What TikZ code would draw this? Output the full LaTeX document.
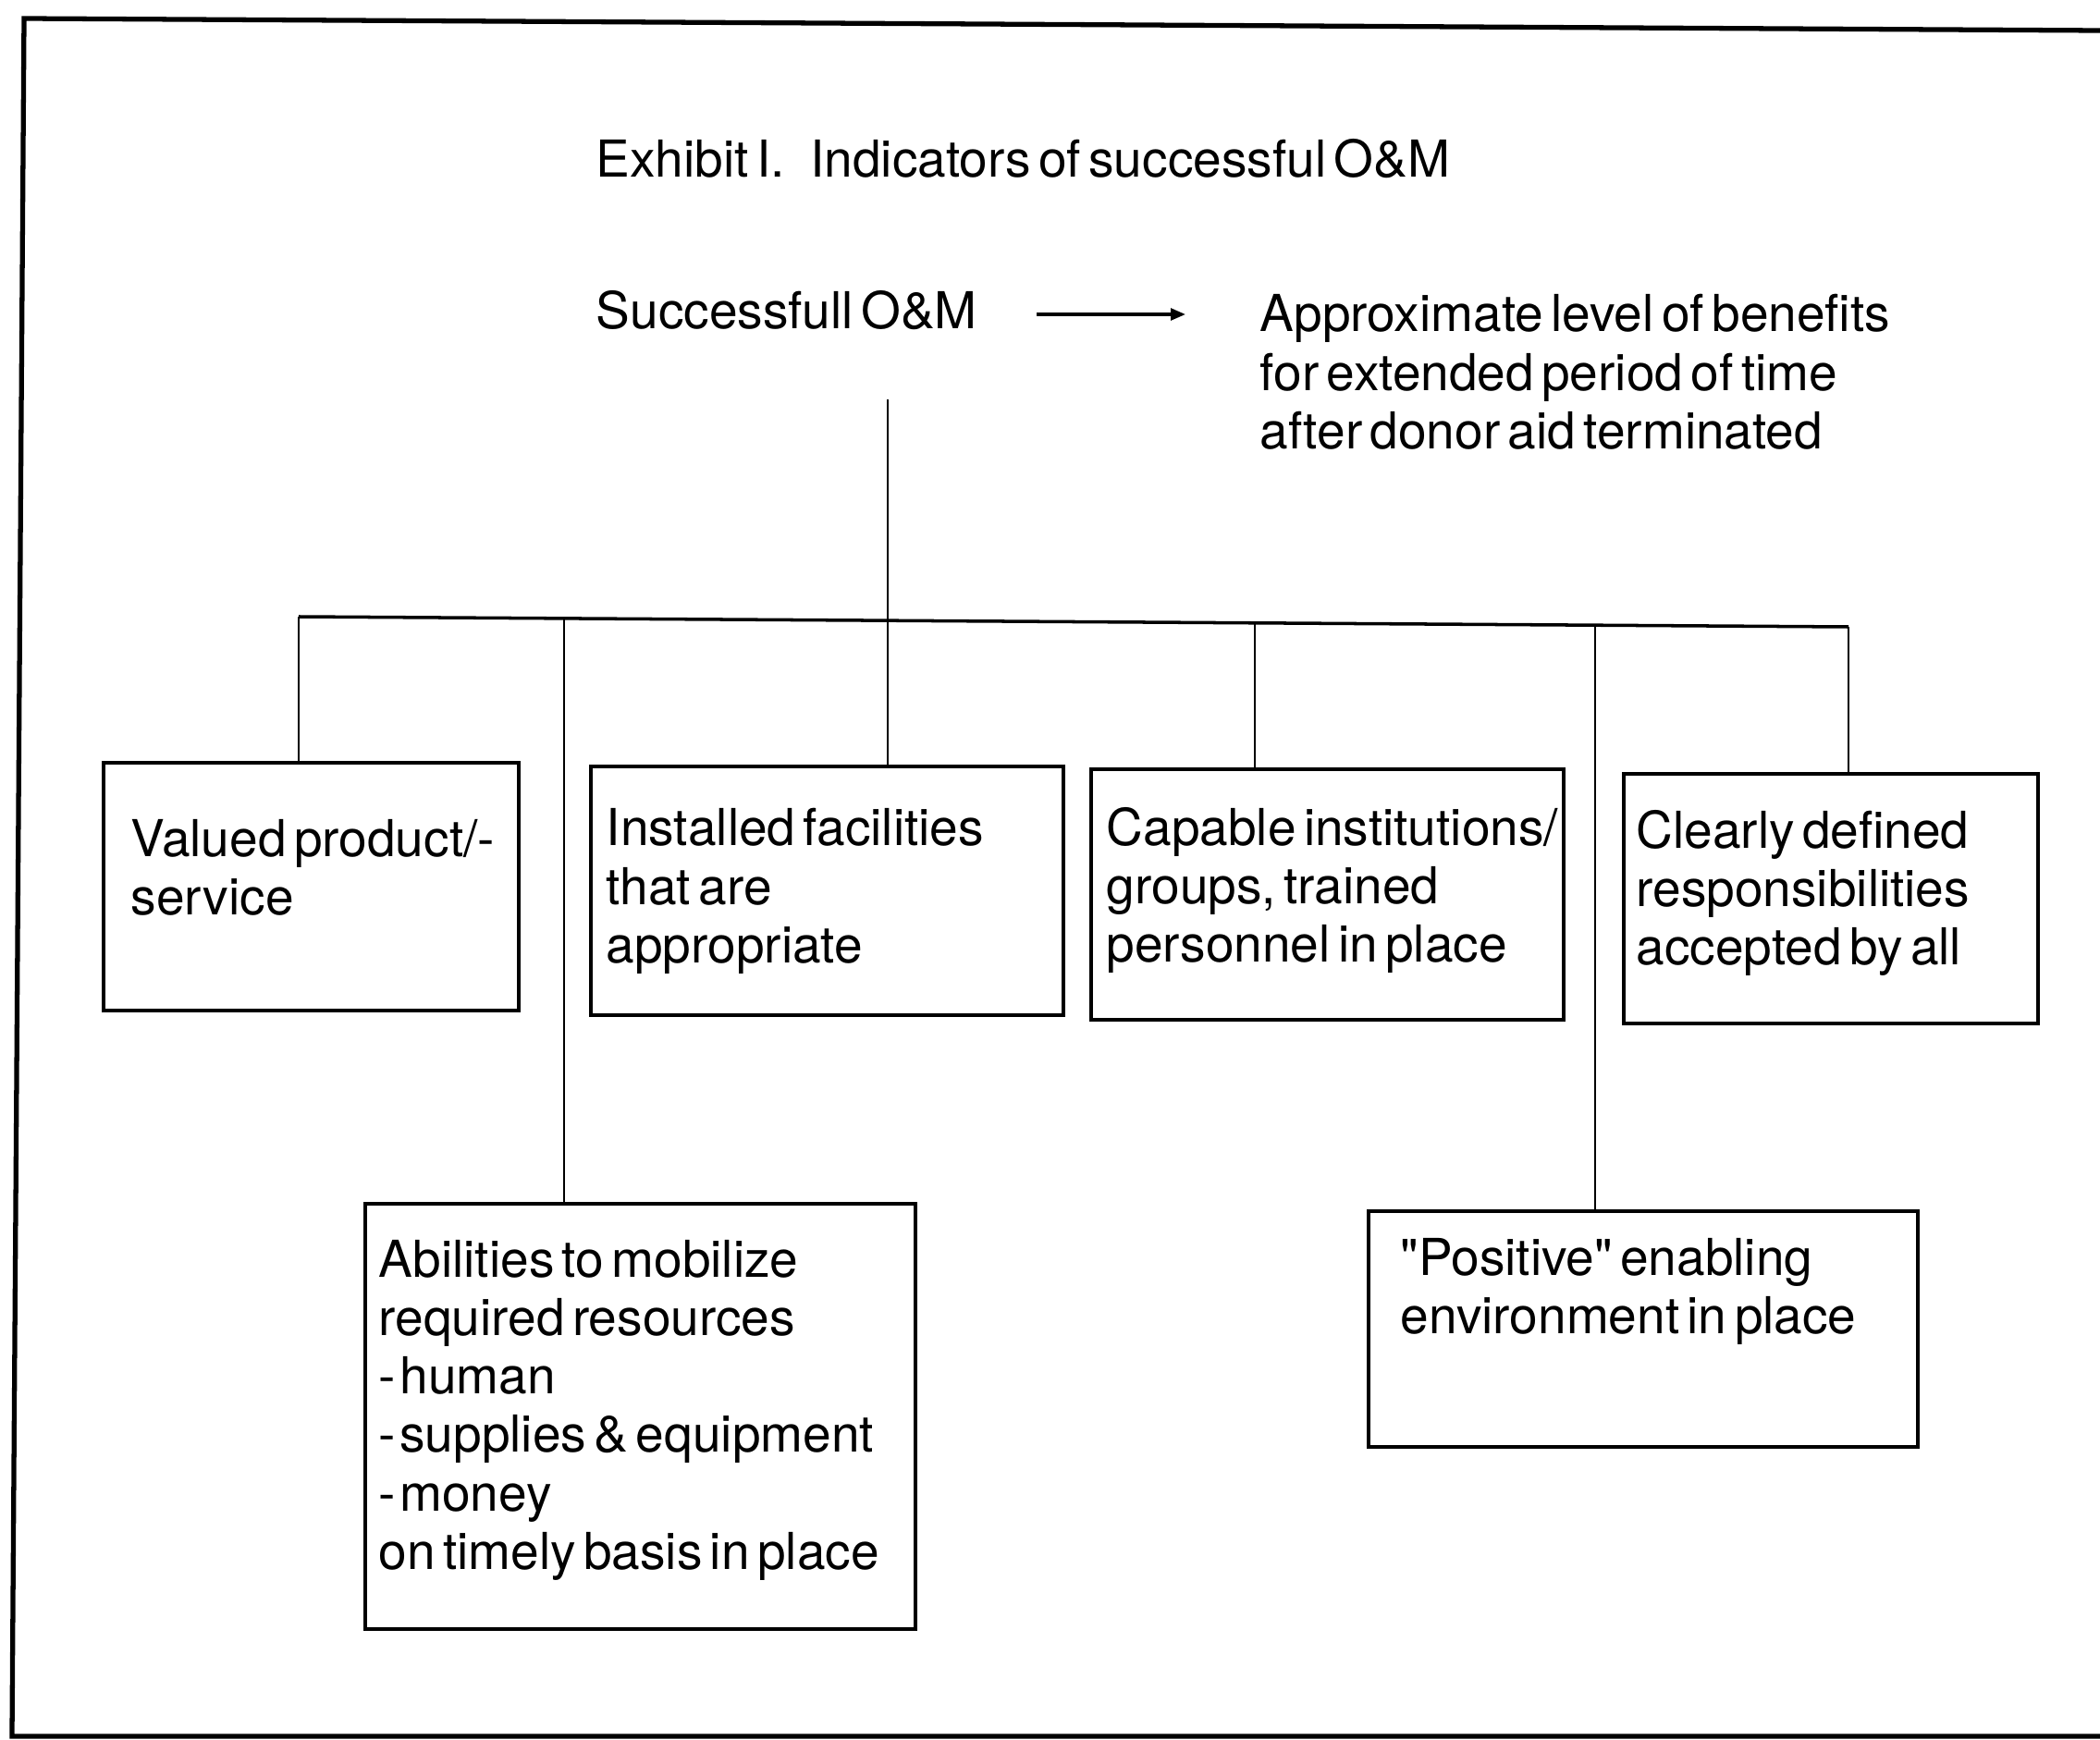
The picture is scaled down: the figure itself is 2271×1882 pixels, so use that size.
\documentclass[tikz,border=0pt]{standalone}
\usepackage{fontspec}
\setmainfont{TeX Gyre Heros}[WordSpace=0.55]
\usetikzlibrary{arrows.meta}
\begin{document}
\begin{tikzpicture}[x=0.01cm,y=-0.01cm,
  every node/.style={font=\fontsize{15.65pt}{17.93pt}\selectfont, inner sep=0pt},
  txt/.style={anchor=north west, align=left},
  box/.style={draw, line width=1pt},
  link/.style={line width=0.75pt},
  frame/.style={line width=1.5pt, line join=miter},
  arr/.style={line width=0.9pt, -{Triangle[length=4.5pt,width=3.6pt]}}]
\useasboundingbox (0,0) rectangle (2271,1882);
% outer frame
\draw[frame] (2271,33) -- (26,20) -- (13,1878) -- (2271,1878);
% header texts
\node[txt] (title) at (644,150) {Exhibit I.\hspace{0.5em}Indicators of successful O\&M};
\node[txt] (root) at (644,314) {Successfull O\&M};
\node[txt] (result) at (1362,318) {Approximate level of benefits\\for extended period of time\\after donor aid terminated};
\coordinate (aS) at (1121,340);
\coordinate (aE) at (1282,340);
\draw[arr] (aS) -- (aE);
% boxes
\node[box, minimum width=4.49cm, minimum height=2.68cm] (b1) at (336.5,959) {};
\node[box, minimum width=5.11cm, minimum height=2.69cm] (b2) at (894.5,963.5) {};
\node[box, minimum width=5.11cm, minimum height=2.71cm] (b3) at (1435.5,967.5) {};
\node[box, minimum width=4.48cm, minimum height=2.70cm] (b4) at (1980,972) {};
\node[box, minimum width=5.95cm, minimum height=4.60cm] (b5) at (692.5,1532) {};
\node[box, minimum width=5.94cm, minimum height=2.55cm] (b6) at (1777,1437.5) {};
% box texts
\node[txt] (t1) at (141,886) {Valued product/-\\service};
\node[txt] (t2) at (655,874) {Installed facilities\\that are\\appropriate};
\node[txt] (t3) at (1196,873) {Capable institutions/\\groups, trained\\personnel in place};
\node[txt] (t4) at (1769,876) {Clearly defined\\responsibilities\\accepted by all};
\node[txt] (t5) at (409,1341) {Abilities to mobilize\\required resources\\-\hspace{0.08em}human\\-\hspace{0.08em}supplies \& equipment\\-\hspace{0.08em}money\\on timely basis in place};
\node[txt] (t6) at (1514,1339) {\textquotedbl Positive\textquotedbl\ enabling\\environment in place};
% tree connectors
\coordinate (stem) at (960,432);
\coordinate (j1) at (323,667);
\coordinate (j2) at (610,669);
\coordinate (j4) at (1357,674);
\coordinate (j5) at (1725,676);
\coordinate (j6) at (1999,678);
\draw[line width=1pt] (j1) -- (j6);
\draw[link] (stem) -- (b2.north -| stem);
\draw[link] (j1) -- (b1.north -| j1);
\draw[link] (j2) -- (b5.north -| j2);
\draw[link] (j4) -- (b3.north -| j4);
\draw[link] (j5) -- (b6.north -| j5);
\draw[link] (j6) -- (b4.north -| j6);
\end{tikzpicture}
\end{document}
